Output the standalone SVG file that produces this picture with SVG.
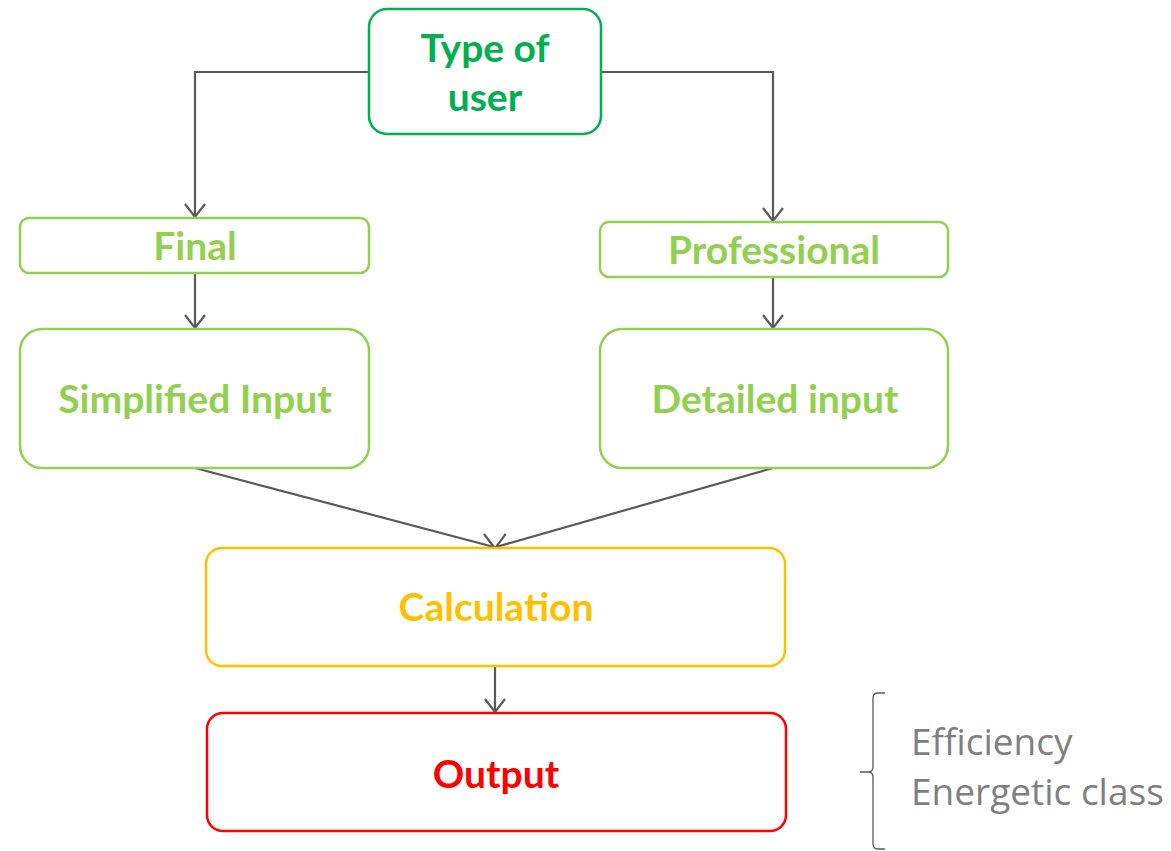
<svg xmlns="http://www.w3.org/2000/svg" width="1171" height="851" viewBox="0 0 1171 851">
  <style>
    .box { fill: #ffffff; stroke-width: 2.5; }
    .lbl { font-family: Lato, "Open Sans", "Liberation Sans", sans-serif; font-weight: bold; text-anchor: middle; font-size: 39px; }
    .conn { fill: none; stroke: #595959; stroke-width: 2.2; }
    .note { font-family: "Open Sans", "Liberation Sans", sans-serif; font-size: 37px; fill: #7f7f7f; }
  </style>
  <defs>
    <marker id="arrow" markerWidth="16" markerHeight="22" refX="14" refY="11" orient="auto" markerUnits="userSpaceOnUse">
      <path d="M1,1 L14,11 L1,21" fill="none" stroke="#595959" stroke-width="2.2"/>
    </marker>
  </defs>
  <rect width="1171" height="851" fill="#ffffff"/>

  <g id="connectors">
    <path class="conn" d="M369,72 H195 V217" marker-end="url(#arrow)"/>
    <path class="conn" d="M601,72 H773 V221" marker-end="url(#arrow)"/>
    <path class="conn" d="M195,273 V328" marker-end="url(#arrow)"/>
    <path class="conn" d="M773,277 V328" marker-end="url(#arrow)"/>
    <path class="conn" d="M195,468 L494,547" marker-end="url(#arrow)"/>
    <path class="conn" d="M773,468 L496,547" marker-end="url(#arrow)"/>
    <path class="conn" d="M495,666 V712" marker-end="url(#arrow)"/>
  </g>

  <g id="type-of-user">
    <rect class="box" x="369" y="9" width="232" height="125" rx="18" stroke="#00b050"/>
    <text class="lbl" x="485" y="62" fill="#00b050">Type of</text>
    <text class="lbl" x="485" y="111" fill="#00b050">user</text>
  </g>

  <g id="final">
    <rect class="box" x="20" y="218" width="349" height="55" rx="9" stroke="#92d050"/>
    <text class="lbl" x="195" y="260" fill="#92d050">Final</text>
  </g>

  <g id="professional">
    <rect class="box" x="600" y="222" width="348" height="55" rx="9" stroke="#92d050"/>
    <text class="lbl" x="774" y="264" fill="#92d050">Professional</text>
  </g>

  <g id="simplified-input">
    <rect class="box" x="20" y="329" width="349" height="139" rx="22" stroke="#92d050"/>
    <text class="lbl" x="195" y="413" fill="#92d050">Simplified Input</text>
  </g>

  <g id="detailed-input">
    <rect class="box" x="600" y="329" width="348" height="139" rx="22" stroke="#92d050"/>
    <text class="lbl" x="775" y="413" fill="#92d050">Detailed input</text>
  </g>

  <g id="calculation">
    <rect class="box" x="206" y="548" width="579" height="118" rx="16" stroke="#ffc000"/>
    <text class="lbl" x="496" y="621" fill="#ffc000">Calculation</text>
  </g>

  <g id="output">
    <rect class="box" x="207" y="713" width="579" height="118" rx="16" stroke="#ff0000"/>
    <text class="lbl" x="496" y="788" fill="#ff0000">Output</text>
  </g>

  <g id="output-notes">
    <path d="M885,693 H878 Q873,693 873,698 V767 Q873,772 868,772 H860 H868 Q873,772 873,777 V844 Q873,849 878,849 H885" fill="none" stroke="#595959" stroke-width="1.3"/>
    <text class="note" x="911" y="755">Efficiency</text>
    <text class="note" x="911" y="805">Energetic class</text>
  </g>
</svg>
